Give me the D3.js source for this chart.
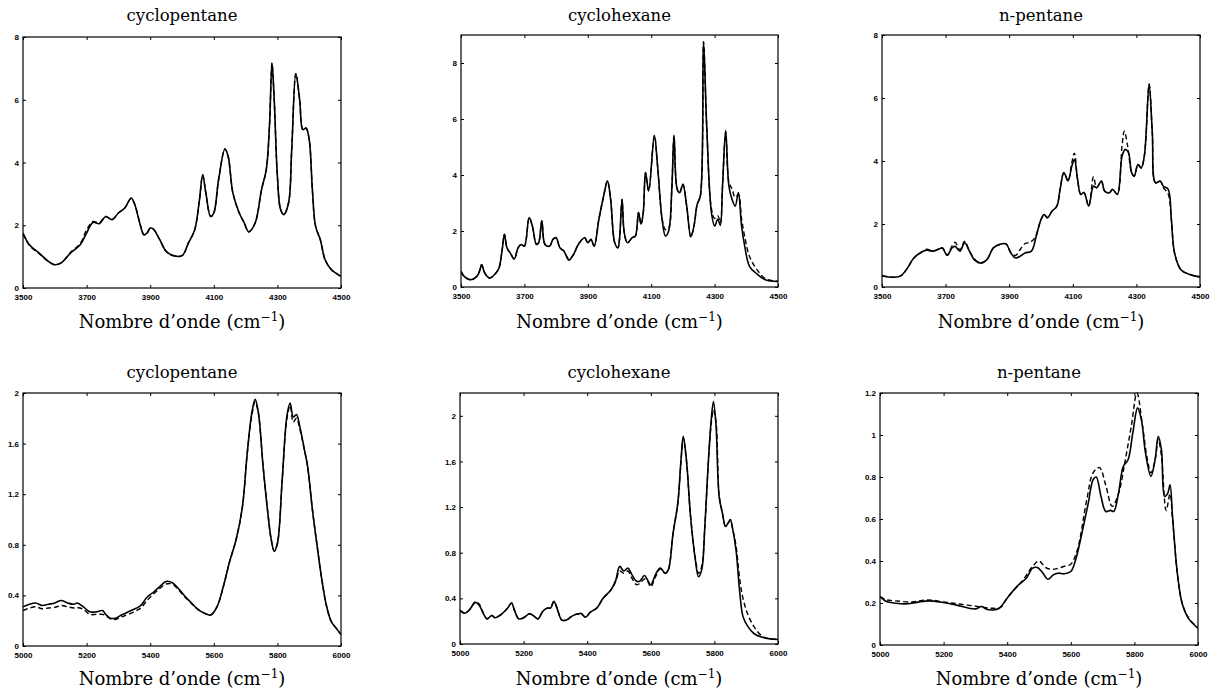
<!DOCTYPE html>
<html>
<head>
<meta charset="utf-8">
<script src="https://cdn.jsdelivr.net/npm/d3@7"></script>
<style>
  html, body { margin: 0; padding: 0; background: #fff; }
  svg { display: block; }
</style>
</head>
<body>
<div id="chart"></div>
<script>
// ---------------- DATA ----------------
const titles = ["cyclopentane", "cyclohexane", "n-pentane", "cyclopentane", "cyclohexane", "n-pentane"];
const xLabelMain = "Nombre d\u2019onde (cm";
const xLabelSup = "\u22121";

const xTicksTop = [3500, 3700, 3900, 4100, 4300, 4500];
const xTicksBottom = [5000, 5200, 5400, 5600, 5800, 6000];
const yTicksP1 = [0, 2, 4, 6, 8];
const yTicksP2 = [0, 2, 4, 6, 8];
const yTicksP3 = [0, 2, 4, 6, 8];
const yTicksP4 = [0, 0.4, 0.8, 1.2, 1.6, 2];
const yTicksP5 = [0, 0.4, 0.8, 1.2, 1.6, 2];
const yTicksP6 = [0, 0.2, 0.4, 0.6, 0.8, 1, 1.2];
const yMax = [8, 9, 8, 2, 2.2, 1.2];

// Panel 1: cyclopentane 3500-4500 (solid = measured, dashed = predicted)
const p1Solid = [[3500,1.75],[3520,1.38],[3550,1.12],[3580,0.85],[3600,0.74],[3620,0.80],[3650,1.12],[3680,1.38],[3700,1.75],[3720,2.09],[3740,2.05],[3760,2.28],[3780,2.18],[3800,2.39],[3820,2.55],[3840,2.87],[3850,2.70],[3870,1.97],[3880,1.70],[3890,1.75],[3900,1.91],[3910,1.88],[3930,1.54],[3950,1.17],[3970,1.04],[4000,1.03],[4020,1.43],[4040,1.86],[4055,2.82],[4065,3.61],[4075,3.03],[4090,2.28],[4100,2.39],[4115,3.45],[4135,4.43],[4145,4.20],[4160,3.03],[4180,2.39],[4195,2.09],[4210,1.79],[4230,2.07],[4250,3.13],[4265,3.77],[4275,5.15],[4283,7.17],[4290,6.00],[4300,3.56],[4310,2.50],[4320,2.34],[4335,2.71],[4345,4.41],[4358,6.83],[4370,6.00],[4380,5.05],[4390,5.10],[4400,4.73],[4410,3.13],[4420,1.97],[4435,1.54],[4450,0.90],[4470,0.58],[4500,0.37]];
const p1Dashed = [[3500,1.72],[3520,1.36],[3550,1.10],[3580,0.84],[3600,0.74],[3620,0.80],[3650,1.14],[3680,1.42],[3700,1.85],[3720,2.12],[3740,2.08],[3760,2.28],[3780,2.18],[3800,2.39],[3820,2.55],[3840,2.85],[3850,2.70],[3870,1.97],[3880,1.70],[3890,1.75],[3900,1.91],[3910,1.88],[3930,1.54],[3950,1.17],[3970,1.04],[4000,1.03],[4020,1.43],[4040,1.86],[4055,2.82],[4065,3.61],[4075,3.03],[4090,2.28],[4100,2.39],[4115,3.45],[4135,4.43],[4145,4.20],[4160,3.03],[4180,2.39],[4195,2.09],[4210,1.79],[4230,2.07],[4250,3.13],[4265,3.77],[4275,5.15],[4283,7.17],[4290,6.00],[4300,3.56],[4310,2.50],[4320,2.34],[4335,2.71],[4345,4.41],[4358,6.83],[4370,6.00],[4380,5.05],[4390,5.10],[4400,4.73],[4410,3.13],[4420,1.97],[4435,1.54],[4450,0.90],[4470,0.58],[4500,0.37]];

// Panel 2: cyclohexane 3500-4500
const p2Solid = [[3500,0.56],[3510,0.38],[3530,0.26],[3550,0.38],[3560,0.62],[3565,0.80],[3575,0.50],[3590,0.32],[3610,0.50],[3620,0.68],[3630,1.34],[3637,1.88],[3645,1.40],[3655,1.22],[3668,1.00],[3680,1.40],[3690,1.52],[3700,1.46],[3715,2.48],[3725,2.18],[3738,1.52],[3745,1.58],[3755,2.36],[3765,1.52],[3780,1.46],[3790,1.70],[3800,1.76],[3812,1.40],[3825,1.28],[3840,0.96],[3855,1.16],[3870,1.52],[3890,1.76],[3900,1.58],[3910,1.70],[3920,1.46],[3935,2.42],[3950,3.25],[3962,3.79],[3972,3.13],[3985,1.58],[3995,1.40],[4000,1.70],[4008,3.13],[4015,1.94],[4025,1.58],[4040,1.76],[4050,1.82],[4060,2.66],[4068,2.24],[4075,2.66],[4082,4.09],[4092,3.43],[4110,5.41],[4120,4.33],[4135,2.36],[4145,1.82],[4155,2.00],[4165,3.49],[4172,5.41],[4182,3.49],[4190,3.37],[4200,3.67],[4212,2.89],[4225,1.79],[4235,2.18],[4245,2.95],[4255,3.25],[4265,8.76],[4275,5.77],[4290,2.66],[4300,2.18],[4310,2.42],[4318,2.20],[4325,3.61],[4335,5.59],[4345,3.61],[4355,3.13],[4365,2.89],[4375,3.37],[4385,2.18],[4395,1.46],[4410,0.74],[4430,0.50],[4460,0.26],[4500,0.20]];
const p2Dashed = [[3500,0.56],[3510,0.38],[3530,0.26],[3550,0.38],[3560,0.62],[3565,0.80],[3575,0.50],[3590,0.32],[3610,0.50],[3620,0.68],[3630,1.34],[3637,1.88],[3645,1.40],[3655,1.22],[3668,1.00],[3680,1.40],[3690,1.52],[3700,1.46],[3715,2.48],[3725,2.18],[3738,1.52],[3745,1.58],[3755,2.36],[3765,1.52],[3780,1.46],[3790,1.70],[3800,1.76],[3812,1.40],[3825,1.28],[3840,1.00],[3855,1.16],[3870,1.52],[3890,1.76],[3900,1.58],[3910,1.70],[3920,1.46],[3935,2.42],[3950,3.25],[3962,3.79],[3972,3.13],[3985,1.58],[3995,1.40],[4000,1.70],[4008,3.13],[4015,1.94],[4025,1.58],[4040,1.76],[4050,1.82],[4060,2.66],[4068,2.24],[4075,2.66],[4082,4.09],[4092,3.43],[4110,5.41],[4120,4.33],[4135,2.40],[4145,2.05],[4155,2.10],[4165,3.49],[4172,5.41],[4182,3.49],[4190,3.37],[4200,3.67],[4212,2.89],[4225,1.79],[4235,2.18],[4245,2.95],[4255,3.25],[4265,8.76],[4275,5.77],[4290,2.80],[4300,2.45],[4310,2.55],[4318,2.30],[4325,3.61],[4335,5.55],[4345,3.75],[4355,3.50],[4365,3.20],[4375,3.30],[4385,2.45],[4395,1.80],[4410,1.10],[4430,0.68],[4460,0.30],[4500,0.20]];

// Panel 3: n-pentane 3500-4500
const p3Solid = [[3500,0.36],[3520,0.32],[3540,0.31],[3560,0.36],[3580,0.60],[3600,0.92],[3620,1.08],[3640,1.17],[3660,1.14],[3680,1.21],[3690,1.24],[3705,1.00],[3720,1.24],[3730,1.29],[3745,1.14],[3760,1.40],[3775,1.14],[3790,0.87],[3810,0.76],[3830,0.87],[3850,1.24],[3870,1.35],[3890,1.37],[3905,1.08],[3920,0.92],[3935,0.98],[3950,1.08],[3970,1.14],[3985,1.61],[4000,2.14],[4010,2.30],[4020,2.20],[4035,2.41],[4050,2.57],[4060,3.10],[4072,3.63],[4085,3.37],[4097,3.84],[4105,4.05],[4115,3.42],[4125,2.94],[4135,3.00],[4150,2.57],[4165,3.20],[4175,3.15],[4190,3.36],[4200,3.05],[4215,2.99],[4225,3.10],[4240,2.94],[4255,4.16],[4265,4.37],[4275,4.27],[4285,3.63],[4293,3.52],[4305,3.89],[4315,3.78],[4325,4.16],[4340,6.44],[4350,4.90],[4360,3.31],[4375,3.36],[4385,3.20],[4400,3.10],[4410,2.14],[4420,1.08],[4440,0.55],[4470,0.39],[4500,0.32]];
const p3Dashed = [[3500,0.36],[3520,0.32],[3540,0.31],[3560,0.36],[3580,0.60],[3600,0.92],[3620,1.08],[3640,1.20],[3660,1.14],[3680,1.21],[3690,1.24],[3705,1.02],[3720,1.30],[3730,1.42],[3745,1.18],[3760,1.45],[3775,1.14],[3790,0.90],[3810,0.76],[3830,0.87],[3850,1.24],[3870,1.35],[3890,1.37],[3905,1.10],[3920,1.00],[3935,1.20],[3950,1.38],[3965,1.42],[3980,1.55],[4000,2.14],[4010,2.30],[4020,2.20],[4035,2.41],[4050,2.57],[4060,3.10],[4072,3.63],[4085,3.37],[4097,3.95],[4105,4.25],[4115,3.42],[4125,2.94],[4135,3.00],[4150,2.57],[4165,3.50],[4175,3.15],[4190,3.36],[4200,3.05],[4215,2.99],[4225,3.10],[4240,2.94],[4255,4.50],[4262,4.95],[4272,4.50],[4285,3.63],[4293,3.52],[4305,3.89],[4315,3.78],[4325,4.16],[4340,6.44],[4350,4.90],[4360,3.31],[4375,3.36],[4385,3.15],[4400,2.95],[4410,2.14],[4420,1.08],[4440,0.55],[4470,0.39],[4500,0.32]];

// Panel 4: cyclopentane 5000-6000
const p4Solid = [[5000,0.31],[5020,0.33],[5040,0.34],[5060,0.32],[5080,0.33],[5100,0.34],[5120,0.36],[5140,0.34],[5160,0.33],[5170,0.34],[5190,0.31],[5210,0.27],[5230,0.27],[5250,0.28],[5260,0.25],[5275,0.22],[5290,0.22],[5310,0.245],[5340,0.28],[5370,0.32],[5390,0.385],[5410,0.425],[5430,0.47],[5450,0.51],[5470,0.50],[5490,0.45],[5510,0.39],[5530,0.34],[5550,0.29],[5570,0.26],[5590,0.245],[5610,0.31],[5630,0.47],[5650,0.67],[5670,0.84],[5690,1.10],[5705,1.52],[5720,1.85],[5730,1.95],[5740,1.85],[5755,1.42],[5770,1.05],[5780,0.85],[5790,0.75],[5800,0.81],[5815,1.31],[5830,1.82],[5840,1.92],[5850,1.81],[5860,1.83],[5870,1.74],[5885,1.55],[5895,1.42],[5910,1.08],[5925,0.79],[5940,0.52],[5955,0.31],[5970,0.19],[5985,0.14],[6000,0.09]];
const p4Dashed = [[5000,0.28],[5020,0.30],[5040,0.31],[5060,0.295],[5080,0.30],[5100,0.305],[5120,0.32],[5140,0.31],[5160,0.30],[5170,0.305],[5190,0.29],[5210,0.25],[5230,0.25],[5250,0.25],[5260,0.24],[5275,0.215],[5290,0.21],[5310,0.23],[5340,0.26],[5370,0.30],[5390,0.36],[5410,0.41],[5430,0.455],[5450,0.49],[5470,0.49],[5490,0.44],[5510,0.385],[5530,0.335],[5550,0.29],[5570,0.26],[5590,0.245],[5610,0.31],[5630,0.47],[5650,0.67],[5670,0.84],[5690,1.10],[5705,1.52],[5720,1.83],[5730,1.93],[5740,1.84],[5755,1.42],[5770,1.05],[5780,0.85],[5790,0.75],[5800,0.81],[5815,1.31],[5830,1.80],[5840,1.90],[5850,1.77],[5860,1.80],[5870,1.72],[5885,1.55],[5895,1.42],[5910,1.08],[5925,0.79],[5940,0.52],[5955,0.31],[5970,0.19],[5985,0.14],[6000,0.09]];

// Panel 5: cyclohexane 5000-6000
const p5Solid = [[5000,0.295],[5015,0.27],[5030,0.30],[5048,0.365],[5060,0.34],[5075,0.26],[5085,0.22],[5100,0.25],[5110,0.23],[5130,0.26],[5150,0.315],[5162,0.36],[5172,0.29],[5185,0.22],[5200,0.23],[5218,0.265],[5230,0.25],[5245,0.22],[5260,0.285],[5275,0.315],[5285,0.315],[5295,0.375],[5305,0.315],[5320,0.21],[5335,0.21],[5350,0.24],[5365,0.26],[5375,0.265],[5380,0.27],[5395,0.235],[5410,0.28],[5430,0.315],[5450,0.40],[5475,0.475],[5490,0.56],[5502,0.68],[5515,0.64],[5528,0.665],[5540,0.61],[5555,0.55],[5565,0.55],[5580,0.60],[5590,0.56],[5600,0.52],[5615,0.61],[5630,0.665],[5645,0.62],[5655,0.65],[5670,0.97],[5685,1.235],[5695,1.615],[5702,1.82],[5712,1.615],[5725,1.12],[5740,0.74],[5750,0.59],[5760,0.65],[5770,1.03],[5780,1.555],[5790,1.965],[5797,2.125],[5805,1.92],[5815,1.29],[5825,1.15],[5835,1.03],[5843,1.06],[5850,1.09],[5858,1.00],[5868,0.825],[5880,0.445],[5890,0.24],[5905,0.155],[5925,0.09],[5950,0.06],[5975,0.045],[6000,0.04]];
const p5Dashed = [[5000,0.295],[5015,0.27],[5030,0.30],[5048,0.37],[5060,0.35],[5075,0.26],[5085,0.22],[5100,0.25],[5110,0.23],[5130,0.26],[5150,0.315],[5162,0.36],[5172,0.29],[5185,0.22],[5200,0.23],[5218,0.265],[5230,0.25],[5245,0.22],[5260,0.285],[5275,0.315],[5285,0.315],[5295,0.375],[5305,0.315],[5320,0.21],[5335,0.21],[5350,0.24],[5365,0.26],[5375,0.265],[5380,0.27],[5395,0.235],[5410,0.28],[5430,0.315],[5450,0.40],[5475,0.475],[5490,0.55],[5502,0.64],[5515,0.62],[5528,0.64],[5540,0.58],[5555,0.52],[5565,0.53],[5580,0.57],[5590,0.55],[5600,0.50],[5615,0.59],[5630,0.66],[5645,0.62],[5655,0.65],[5670,0.97],[5685,1.235],[5695,1.60],[5702,1.80],[5712,1.61],[5725,1.12],[5740,0.75],[5750,0.62],[5760,0.68],[5770,1.03],[5780,1.54],[5790,1.93],[5797,2.05],[5805,1.95],[5815,1.30],[5825,1.15],[5835,1.03],[5843,1.06],[5850,1.08],[5858,1.00],[5868,0.86],[5880,0.56],[5890,0.40],[5905,0.26],[5925,0.15],[5950,0.07],[5975,0.045],[6000,0.04]];

// Panel 6: n-pentane 5000-6000
const p6Solid = [[5000,0.23],[5020,0.207],[5050,0.199],[5080,0.196],[5100,0.199],[5150,0.21],[5200,0.202],[5240,0.19],[5280,0.175],[5300,0.172],[5320,0.183],[5335,0.17],[5355,0.167],[5375,0.175],[5400,0.223],[5430,0.278],[5460,0.318],[5480,0.366],[5495,0.369],[5510,0.347],[5528,0.313],[5545,0.334],[5560,0.342],[5580,0.339],[5600,0.35],[5615,0.405],[5635,0.533],[5655,0.676],[5670,0.787],[5680,0.80],[5695,0.707],[5710,0.636],[5725,0.641],[5735,0.636],[5750,0.723],[5765,0.85],[5780,0.882],[5795,1.01],[5810,1.129],[5822,1.073],[5835,0.914],[5852,0.803],[5865,0.882],[5875,0.994],[5885,0.93],[5895,0.707],[5905,0.723],[5912,0.763],[5920,0.612],[5935,0.342],[5950,0.199],[5970,0.127],[6000,0.08]];
const p6Dashed = [[5000,0.23],[5020,0.215],[5050,0.21],[5100,0.205],[5150,0.215],[5200,0.205],[5250,0.195],[5300,0.185],[5350,0.175],[5380,0.18],[5400,0.225],[5450,0.31],[5480,0.375],[5500,0.40],[5520,0.37],[5540,0.36],[5560,0.365],[5580,0.375],[5600,0.385],[5620,0.45],[5650,0.69],[5670,0.82],[5690,0.845],[5710,0.76],[5730,0.66],[5750,0.72],[5770,0.87],[5790,1.04],[5808,1.20],[5825,1.05],[5840,0.89],[5852,0.82],[5865,0.88],[5875,0.98],[5885,0.90],[5900,0.64],[5912,0.72],[5920,0.60],[5935,0.34],[5950,0.20],[5970,0.13],[6000,0.08]];

// ---------------- LAYOUT ----------------
const W = 1215, H = 695;
const frames = [
  {x0: 23,  x1: 341,  y0: 37,  y1: 288, titleY: 21,  labelY: 328},
  {x0: 461, x1: 778,  y0: 35,  y1: 287, titleY: 21,  labelY: 328},
  {x0: 882, x1: 1200, y0: 35,  y1: 287, titleY: 21,  labelY: 328},
  {x0: 23,  x1: 341,  y0: 393, y1: 646, titleY: 378, labelY: 685},
  {x0: 460, x1: 778,  y0: 393, y1: 644, titleY: 378, labelY: 685},
  {x0: 880, x1: 1198, y0: 393, y1: 645, titleY: 378, labelY: 685}
];
const panelData = [
  {solid: p1Solid, dashed: p1Dashed, xd: [3500, 4500], xt: xTicksTop,    yt: yTicksP1},
  {solid: p2Solid, dashed: p2Dashed, xd: [3500, 4500], xt: xTicksTop,    yt: yTicksP2},
  {solid: p3Solid, dashed: p3Dashed, xd: [3500, 4500], xt: xTicksTop,    yt: yTicksP3},
  {solid: p4Solid, dashed: p4Dashed, xd: [5000, 6000], xt: xTicksBottom, yt: yTicksP4},
  {solid: p5Solid, dashed: p5Dashed, xd: [5000, 6000], xt: xTicksBottom, yt: yTicksP5},
  {solid: p6Solid, dashed: p6Dashed, xd: [5000, 6000], xt: xTicksBottom, yt: yTicksP6}
];

const svg = d3.select("#chart").append("svg")
  .attr("width", W).attr("height", H)
  .attr("viewBox", `0 0 ${W} ${H}`);

const tickFont = "'Liberation Sans', Arial, sans-serif";
const serif = "'DejaVu Serif', 'Liberation Serif', serif";

frames.forEach((f, i) => {
  const pd = panelData[i];
  const x = d3.scaleLinear().domain(pd.xd).range([f.x0, f.x1]);
  const y = d3.scaleLinear().domain([0, yMax[i]]).range([f.y1, f.y0]);
  const g = svg.append("g");

  const clipId = "clip" + i;
  svg.append("clipPath").attr("id", clipId)
    .append("rect").attr("x", f.x0).attr("y", f.y0 - 2)
    .attr("width", f.x1 - f.x0).attr("height", f.y1 - f.y0 + 2);

  const line = d3.line()
    .x(d => x(d[0])).y(d => y(d[1]))
    .curve(d3.curveCatmullRom.alpha(0.5));

  const curves = g.append("g").attr("clip-path", `url(#${clipId})`);
  curves.append("path").datum(pd.dashed)
    .attr("d", line).attr("fill", "none")
    .attr("stroke", "#000").attr("stroke-width", 1.4)
    .attr("stroke-dasharray", "5,3");
  curves.append("path").datum(pd.solid)
    .attr("d", line).attr("fill", "none")
    .attr("stroke", "#000").attr("stroke-width", 1.6);

  // Axes (ticks pointing inward, MATLAB style box)
  const fmt = d => String(d);
  const xAxis = g.append("g").attr("transform", `translate(0,${f.y1})`)
    .call(d3.axisBottom(x).tickValues(pd.xt).tickSize(-3).tickPadding(6).tickFormat(fmt));
  const yAxis = g.append("g").attr("transform", `translate(${f.x0},0)`)
    .call(d3.axisLeft(y).tickValues(pd.yt).tickSize(-3).tickPadding(4).tickFormat(fmt));
  const xTop = g.append("g").attr("transform", `translate(0,${f.y0})`)
    .call(d3.axisTop(x).tickValues(pd.xt).tickSize(-3).tickFormat(""));
  const yRight = g.append("g").attr("transform", `translate(${f.x1},0)`)
    .call(d3.axisRight(y).tickValues(pd.yt).tickSize(-3).tickFormat(""));

  [xAxis, yAxis, xTop, yRight].forEach(a => {
    a.select(".domain").remove();
    a.selectAll(".tick line").attr("stroke", "#000").attr("stroke-width", 1);
    a.selectAll("text").attr("font-family", tickFont).attr("font-size", 8)
      .attr("font-weight", "bold").attr("fill", "#000");
  });
  xAxis.selectAll("text").attr("dy", "0.71em");

  // Frame box
  g.append("rect").attr("x", f.x0).attr("y", f.y0)
    .attr("width", f.x1 - f.x0).attr("height", f.y1 - f.y0)
    .attr("fill", "none").attr("stroke", "#000").attr("stroke-width", 1.2);

  // Title
  const cx = (f.x0 + f.x1) / 2;
  svg.append("text").attr("x", cx).attr("y", f.titleY)
    .attr("text-anchor", "middle").attr("font-family", serif)
    .attr("font-size", 16.5).attr("fill", "#000")
    .text(titles[i]);

  // X label with superscript
  const lab = svg.append("text").attr("x", cx).attr("y", f.labelY)
    .attr("text-anchor", "middle").attr("font-family", serif)
    .attr("font-size", 18).attr("fill", "#000");
  lab.append("tspan").text(xLabelMain);
  lab.append("tspan").attr("dy", -7).attr("font-size", 12).text(xLabelSup);
  lab.append("tspan").attr("dy", 7).text(")");
});
</script>
</body>
</html>
